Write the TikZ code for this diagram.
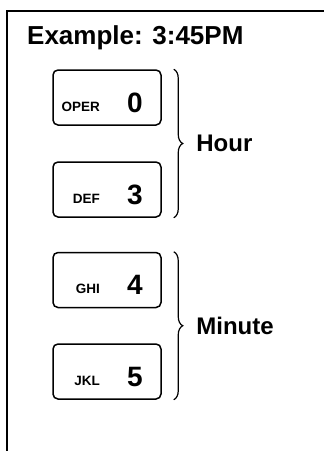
\documentclass[tikz,border=0pt]{standalone}
\usepackage{fontspec}
\setmainfont{Liberation Sans}
\usetikzlibrary{
    calc,
    positioning,
    decorations.pathreplacing
}
\tikzset{
  frame/.style={
    black,
    line width=2pt
  },
  keybox/.style={
    draw,
    line width=1.5pt,
    rounded corners=5pt,
    minimum width=108pt,
    minimum height=55pt,
    inner sep=0pt
  },
  keydigit/.style={
    font=\bfseries\fontsize{28}{28}\selectfont,
    inner sep=0pt
  },
  keylabel/.style={
    font=\bfseries\fontsize{13.5}{13.5}\selectfont,
    inner sep=0pt
  },
  bracket/.style={
    line width=1.2pt,
    decorate,
    decoration={brace,amplitude=9pt}
  },
  bigtext/.style={
    font=\bfseries\fontsize{24}{24}\selectfont,
    inner sep=0pt
  }
}

\begin{document}
\begin{tikzpicture}[x=1pt,y=-1pt]
    \useasboundingbox (0,0) rectangle (324,451);

    % 枠
    \draw[frame] (7,451) -- (7,11) -- (324,11);

    % 見出し
    \node[bigtext,font=\bfseries\fontsize{26}{26}\selectfont,anchor=base west]
        (title) at (27,44) {Example: 3:45PM};

    % キー
    \foreach \nm/\y/\lab/\dig in {kzero/97.5/OPER/0, kthree/189.5/DEF/3,
                                  kfour/280/GHI/4, kfive/371.5/JKL/5}{
        \node[keybox] (\nm) at (107,\y) {};
        \node[keydigit,anchor=base east] (\nm-d)
            at ($(\nm.center)+(36,14.5)$) {\dig};
        \node[keylabel,anchor=base east] (\nm-l)
            at ($(\nm.center)+(-7,13.5)$) {\lab};
    }

    % 括弧
    \draw[bracket] ($(kzero.north east)+(12,0)$) --
        node[bigtext,right=22pt] (hour) {Hour}
        ($(kthree.south east)+(12,0)$);
    \draw[bracket] ($(kfour.north east)+(12,0)$) --
        node[bigtext,right=22pt] (minute) {Minute}
        ($(kfive.south east)+(12,0)$);
\end{tikzpicture}
\end{document}
